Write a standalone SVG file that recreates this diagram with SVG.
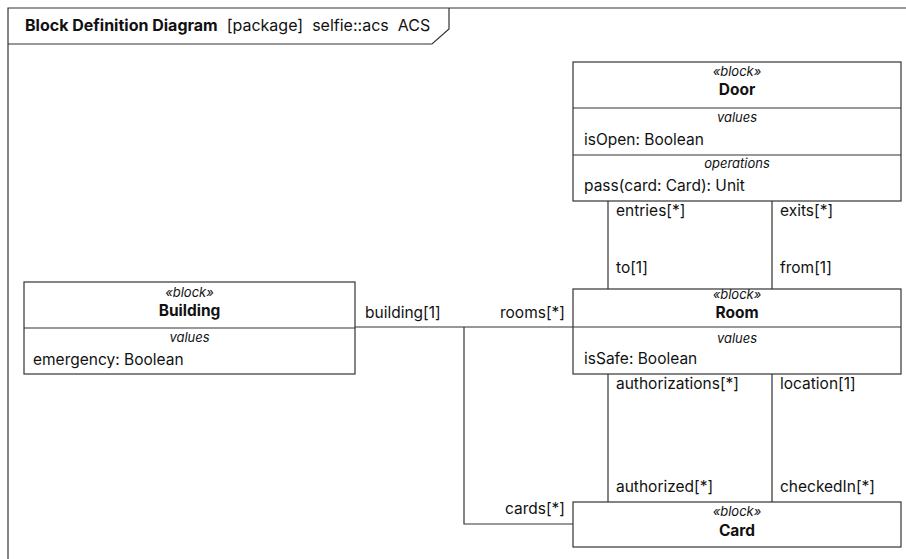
<svg xmlns="http://www.w3.org/2000/svg" width="906" height="559" viewBox="0 0 906 559">
<style>
text{font-family:Inter,"Liberation Sans",sans-serif;font-size:15.5px;fill:#111}
.hd{font-size:16px}
.st{font-size:13px;font-style:italic;text-anchor:middle}
.nm{font-weight:bold;text-anchor:middle}
.bx{fill:#fff;stroke:#333;stroke-width:1.2}
.ln{fill:none;stroke:#333;stroke-width:1.2}
.r{text-anchor:end}
</style>
<rect width="906" height="559" fill="#fff"/>
<g id="frame">
<path class="ln" d="M8,559 V8 H906"/>
<path class="ln" d="M8,44 H432 L449,29 V8"/>
<text class="hd" x="25" y="31" xml:space="preserve"><tspan font-weight="bold">Block Definition Diagram</tspan>  [package]  selfie::acs  ACS</text>
</g>
<g id="connectors">
<path class="ln" d="M608,201 V289 M772,201 V289 M608,374 V502 M772,374 V502 M355,327 H573 M464,327 V524 H573"/>
<text x="616" y="216">entries[*]</text>
<text x="780" y="216">exits[*]</text>
<text x="616" y="273">to[1]</text>
<text x="780" y="273">from[1]</text>
<text x="365" y="318">building[1]</text>
<text x="565" y="318" class="r">rooms[*]</text>
<text x="616" y="389">authorizations[*]</text>
<text x="780" y="389">location[1]</text>
<text x="616" y="492">authorized[*]</text>
<text x="780" y="492">checkedIn[*]</text>
<text x="565" y="514" class="r">cards[*]</text>
</g>
<g id="door">
<rect class="bx" x="573" y="62" width="328" height="139"/>
<path class="ln" d="M573,108 H901 M573,155 H901"/>
<text x="737" y="76" class="st">«block»</text>
<text x="737" y="95" class="nm">Door</text>
<text x="737" y="122" class="st">values</text>
<text x="584" y="145">isOpen: Boolean</text>
<text x="737" y="168" class="st">operations</text>
<text x="584" y="191">pass(card: Card): Unit</text>
</g>
<g id="building">
<rect class="bx" x="24" y="282" width="331" height="92"/>
<path class="ln" d="M24,328 H355"/>
<text x="189.5" y="297" class="st">«block»</text>
<text x="189.5" y="316" class="nm">Building</text>
<text x="189.5" y="342" class="st">values</text>
<text x="33" y="365">emergency: Boolean</text>
</g>
<g id="room">
<rect class="bx" x="573" y="289" width="328" height="85"/>
<path class="ln" d="M573,327 H901"/>
<text x="737" y="299" class="st">«block»</text>
<text x="737" y="318" class="nm">Room</text>
<text x="737" y="343" class="st">values</text>
<text x="584" y="364">isSafe: Boolean</text>
</g>
<g id="card">
<rect class="bx" x="573" y="502" width="328" height="45"/>
<text x="737" y="516" class="st">«block»</text>
<text x="737" y="536" class="nm">Card</text>
</g>
</svg>
